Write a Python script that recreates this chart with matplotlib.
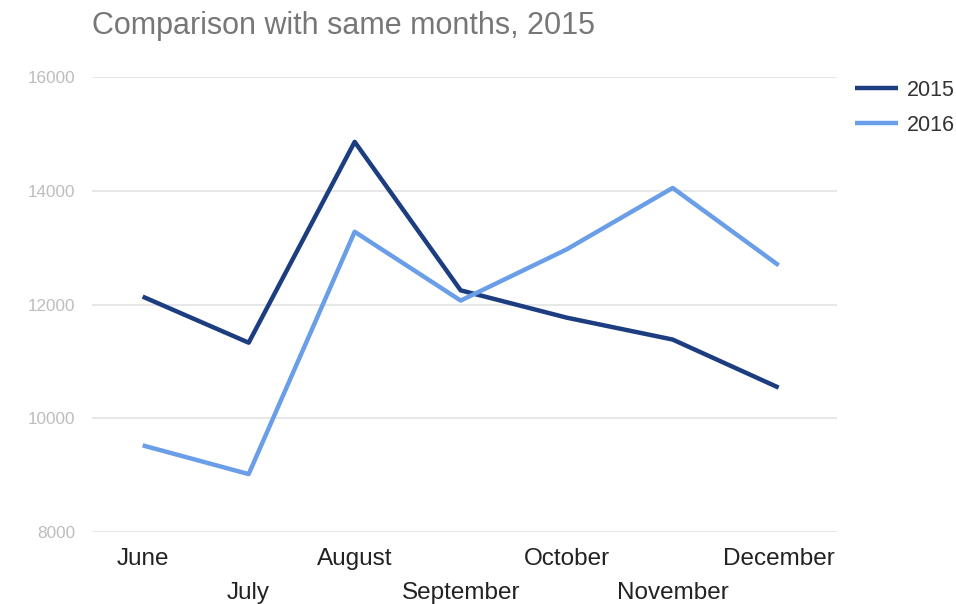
import matplotlib
matplotlib.use("Agg")
import matplotlib.pyplot as plt

months = ["June", "July", "August", "September", "October", "November", "December"]
s2015 = [12140, 11330, 14860, 12250, 11770, 11385, 10540]
s2016 = [9525, 9020, 13280, 12070, 12970, 14050, 12690]
yticks = [8000, 10000, 12000, 14000, 16000]

plt.rcParams['font.family'] = ['Liberation Sans', 'DejaVu Sans']

fig = plt.figure(figsize=(9.56, 6.04), dpi=100)
ax = fig.add_axes([0.096, 0.119, 0.7795, 0.7535])
x = list(range(len(months)))
ax.plot(x, s2015, color="#1c3d80", lw=3.2, solid_capstyle='butt', label="2015", zorder=3)
ax.plot(x, s2016, color="#6b9ee8", lw=3.2, solid_capstyle='butt', label="2016", zorder=3)

ax.set_xlim(-0.48, 6.55)
ax.set_ylim(8000, 16000)
ax.set_yticks(yticks)
ax.set_yticklabels([str(v) for v in yticks], color="#bdbdbd", fontsize=12.3)
ax.grid(axis='y', color="#e3e3e3", lw=1.2)
ax.set_axisbelow(True)
for sp in ax.spines.values():
    sp.set_visible(False)
ax.tick_params(axis='both', length=0)
ax.tick_params(axis='y', pad=12)
ax.set_xticks(x)
ax.set_xticklabels([])
for i, m in enumerate(months):
    off = 0.0 if i % 2 == 0 else -34
    ax.annotate(m, xy=(i, 0), xycoords=('data', 'axes fraction'),
                xytext=(0, -27 + off), textcoords='offset pixels',
                ha='center', va='center', fontsize=17.5, color="#222222")

fig.text(0.096, 0.957, "Comparison with same months, 2015", fontsize=22,
         color="#777777", ha='left', va='center')

leg = fig.legend(loc='upper left', bbox_to_anchor=(855 / 956, 1 - 80 / 604), frameon=False,
                 fontsize=15.5, handlelength=2.0, labelspacing=0.65, handletextpad=0.4,
                 borderpad=0, borderaxespad=0)
for t in leg.get_texts():
    t.set_color("#333333")

fig.savefig("out.png", dpi=100)
